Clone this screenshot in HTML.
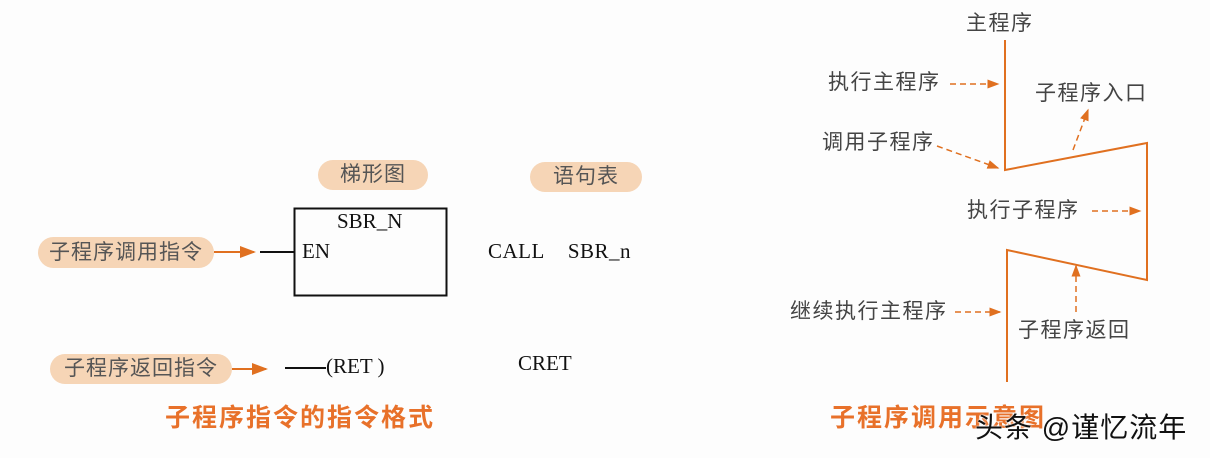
<!DOCTYPE html>
<html><head><meta charset="utf-8"><style>
body{margin:0;width:1210px;height:458px;background:#fdfdfd;overflow:hidden;position:relative;font-family:"Liberation Serif","Noto Serif CJK SC",serif;}
.t{position:absolute;white-space:nowrap;line-height:1;}
.pill{position:absolute;background:#f6d5b6;border-radius:16px;color:#555;font-family:"Liberation Sans","Noto Sans CJK SC",sans-serif;font-size:21px;text-align:center;letter-spacing:1px;}
.cj{font-family:"Liberation Sans","Noto Sans CJK SC",sans-serif;color:#444;font-size:21px;letter-spacing:1.5px;}
.title{font-family:"Liberation Sans","Noto Sans CJK SC",sans-serif;color:#e8712a;font-size:25px;font-weight:bold;letter-spacing:2px;}
</style></head><body>
<svg width="1210" height="458" style="position:absolute;left:0;top:0">
<defs><marker id="a" markerWidth="8" markerHeight="6" refX="7" refY="3" orient="auto"><path d="M0,0 L8,3 L0,6z" fill="#e07020"/></marker></defs>
<g stroke="#e07020" stroke-width="2" fill="none">
<line x1="214" y1="252" x2="254" y2="252" marker-end="url(#a)"/>
<line x1="232" y1="369" x2="266" y2="369" marker-end="url(#a)"/>
<polyline points="1005,40 1005,170 1147,143 1147,280 1007,250 1007,382"/>
</g>
<g stroke="#e07020" stroke-width="1.5" fill="none" stroke-dasharray="6,4">
<line x1="950" y1="84" x2="998" y2="84" marker-end="url(#a)"/>
<line x1="1073" y1="150" x2="1088" y2="110" marker-end="url(#a)"/>
<line x1="937" y1="146" x2="998" y2="168" marker-end="url(#a)"/>
<line x1="1092" y1="211" x2="1140" y2="211" marker-end="url(#a)"/>
<line x1="955" y1="312" x2="1000" y2="312" marker-end="url(#a)"/>
<line x1="1076" y1="312" x2="1076" y2="266" marker-end="url(#a)"/>
</g>
<line x1="260" y1="252" x2="294" y2="252" stroke="#111" stroke-width="2"/>
<rect x="294.5" y="208.5" width="152" height="87" fill="none" stroke="#111" stroke-width="2"/>
<line x1="285" y1="368" x2="326" y2="368" stroke="#111" stroke-width="2"/>
</svg>
<div class="pill" style="left:318px;top:160px;width:110px;height:30px;line-height:30px">梯形图</div>
<div class="pill" style="left:530px;top:162px;width:112px;height:30px;line-height:30px">语句表</div>
<div class="pill" style="left:38px;top:237px;width:176px;height:31px;line-height:31px">子程序调用指令</div>
<div class="pill" style="left:50px;top:354px;width:182px;height:30px;line-height:30px">子程序返回指令</div>
<div class="t" style="left:337px;top:211px;font-size:21px;color:#111">SBR_N</div>
<div class="t" style="left:302px;top:241px;font-size:21px;color:#111">EN</div>
<div class="t" style="left:488px;top:241px;font-size:21px;color:#111;letter-spacing:0.5px">CALL&nbsp;&nbsp;&nbsp;&nbsp;SBR_n</div>
<div class="t" style="left:326px;top:356px;font-size:21px;color:#111">(RET )</div>
<div class="t" style="left:518px;top:353px;font-size:21px;color:#111">CRET</div>
<div class="t title" style="left:165px;top:406px">子程序指令的指令格式</div>
<div class="t cj" style="left:966px;top:13px">主程序</div>
<div class="t cj" style="left:828px;top:72px">执行主程序</div>
<div class="t cj" style="left:1035px;top:83px">子程序入口</div>
<div class="t cj" style="left:822px;top:132px">调用子程序</div>
<div class="t cj" style="left:967px;top:200px">执行子程序</div>
<div class="t cj" style="left:790px;top:301px">继续执行主程序</div>
<div class="t cj" style="left:1018px;top:320px">子程序返回</div>
<div class="t title" style="left:830px;top:406px">子程序调用示意图</div>
<div class="t" style="left:975px;top:414px;font-family:'Liberation Sans','Noto Sans CJK SC',sans-serif;font-size:28px;letter-spacing:1px;color:#111;text-shadow:0 0 2px #fff,0 0 2px #fff">头条 @谨忆流年</div>
</body></html>
